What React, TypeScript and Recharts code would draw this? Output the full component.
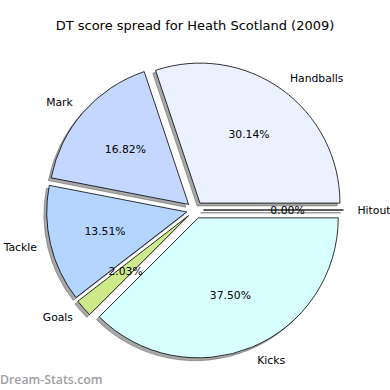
import { PieChart, Pie } from "recharts";

const labels = ["Handballs", "Mark", "Tackle", "Goals", "Kicks", "Hitout"];
const shares = [30.14, 16.82, 13.51, 2.03, 37.5, 0.0];
const colors = ["#EBF1FF", "#C4D8FF", "#B3D5FF", "#CDEA8A", "#D8FFFF", "#FFFFFF"];

const data = labels.map((name, i) => ({ name, value: shares[i], fill: colors[i] }));

const RAD = Math.PI / 180;
const EXPLODE = 8.5;
const FONT = "'DejaVu Sans', sans-serif";

function wedgePath(cx: number, cy: number, r: number, a0: number, a1: number) {
  const x0 = cx + r * Math.cos(a0 * RAD);
  const y0 = cy - r * Math.sin(a0 * RAD);
  const x1 = cx + r * Math.cos(a1 * RAD);
  const y1 = cy - r * Math.sin(a1 * RAD);
  const large = a1 - a0 > 180 ? 1 : 0;
  return `M${cx},${cy} L${x0},${y0} A${r},${r} 0 ${large} 0 ${x1},${y1} Z`;
}

// matplotlib-like exploded wedge with a drop shadow
const ExplodedSector = (props: any) => {
  const { cx, cy, outerRadius, startAngle, endAngle, midAngle, fill } = props;
  const ox = cx + EXPLODE * Math.cos(midAngle * RAD);
  const oy = cy - EXPLODE * Math.sin(midAngle * RAD);
  return (
    <g>
      <path d={wedgePath(ox - 2.8, oy + 2.8, outerRadius, startAngle, endAngle)} fill="#6e6e6e" fillOpacity={0.6} stroke="#6e6e6e" strokeOpacity={0.6} strokeWidth={1} />
      <path d={wedgePath(ox, oy, outerRadius, startAngle, endAngle)} fill={fill} stroke="#000" strokeWidth={0.8} strokeLinejoin="miter" />
    </g>
  );
};

const renderLabel = (props: any) => {
  const { cx, cy, outerRadius, midAngle, name, value } = props;
  const c = Math.cos(midAngle * RAD);
  const s = Math.sin(midAngle * RAD);
  const ox = cx + EXPLODE * c;
  const oy = cy - EXPLODE * s;
  const lx = ox + 1.1 * outerRadius * c;
  const ly = oy - 1.1 * outerRadius * s;
  const px = ox + 0.6 * outerRadius * c;
  const py = oy - 0.6 * outerRadius * s;
  return (
    <g>
      <text x={lx} y={ly} textAnchor={lx > ox ? "start" : "end"} dominantBaseline="central" fontFamily={FONT} fontSize={10.8} fill="#000">
        {name}
      </text>
      <text x={px} y={py} textAnchor="middle" dominantBaseline="central" fontFamily={FONT} fontSize={10.8} fill="#000">
        {value.toFixed(2)}%
      </text>
    </g>
  );
};

export default function App() {
  return (
    <div style={{ position: "absolute", left: 0, top: 0, width: 390, height: 390, background: "#fff" }}>
      <PieChart width={390} height={390} margin={{ top: 0, right: 0, bottom: 0, left: 0 }}>
        <text x={195} y={30} textAnchor="middle" fontFamily={FONT} fontSize={13} fill="#000">
          DT score spread for Heath Scotland (2009)
        </text>
        <Pie
          data={data}
          dataKey="value"
          nameKey="name"
          cx={195}
          cy={210}
          outerRadius={140}
          startAngle={0}
          endAngle={360}
          shape={ExplodedSector}
          label={renderLabel}
          labelLine={false}
          isAnimationActive={false}
        />
        <text x={0} y={384} fontFamily="'Open Sans', sans-serif" fontWeight={600} fontSize={12.3} fill="#a0a0a0">
          Dream-Stats.com
        </text>
      </PieChart>
    </div>
  );
}
